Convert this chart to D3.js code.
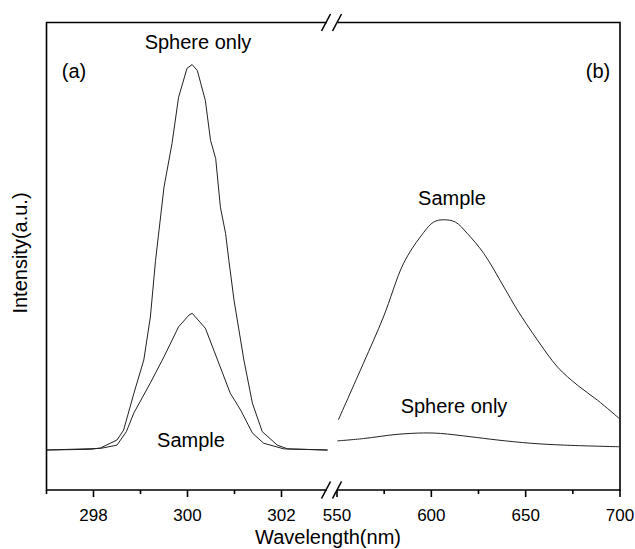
<!DOCTYPE html>
<html>
<head>
<meta charset="UTF-8">
<style>
body { margin:0; background:#fff; }
svg text { font-family: Arial, "Liberation Sans", sans-serif; fill:#000; }
.frame { fill:none; stroke:#000; stroke-width:1.6px; }
.curve { fill:none; stroke:#222; stroke-width:1px; }
</style>
</head>
<body>
<svg width="635" height="549"></svg>
<script src="https://cdn.jsdelivr.net/npm/d3@7"></script>
<script>
// left panel (a): excitation region, nm
var sphereLeftNm = [297.0, 297.94, 298.15, 298.5, 298.64, 298.86, 299.07, 299.21, 299.32, 299.5, 299.67, 299.81, 299.99, 300.1, 300.21, 300.38, 300.49, 300.6, 300.7, 300.81, 300.88, 300.99, 301.2, 301.38, 301.59, 301.91, 302.13, 302.98];
var sphereLeftI  = [8.55, 8.7, 9.0, 10.7, 12.8, 20.7, 27.8, 37.0, 49.1, 64.8, 74.1, 84.0, 90.2, 91.0, 89.7, 83.3, 74.8, 70.9, 60.5, 54.9, 49.1, 40.6, 27.8, 18.6, 12.5, 9.6, 8.8, 8.55];
var sampleLeftNm = [297.0, 298.15, 298.5, 298.7, 298.86, 299.21, 299.5, 299.81, 300.03, 300.1, 300.38, 300.56, 300.91, 301.13, 301.38, 301.62, 302.05, 302.98];
var sampleLeftI  = [8.55, 8.9, 9.6, 12.5, 16.5, 22.9, 28.5, 34.9, 37.4, 37.8, 34.6, 29.9, 20.7, 17.1, 12.2, 10.0, 8.8, 8.55];

// right panel (b): emission region, nm
var sampleRightNm = [550.7, 564.0, 574.6, 585.3, 594.1, 601.2, 606.5, 612.8, 619.0, 627.8, 638.5, 645.6, 656.2, 666.9, 677.5, 688.1, 699.6];
var sampleRightI  = [15.0, 27.1, 37.0, 48.5, 54.1, 57.3, 57.8, 57.3, 54.9, 50.6, 43.4, 38.5, 32.1, 26.3, 22.4, 19.2, 15.3];
var sphereRightNm = [550.2, 564.0, 581.8, 595.9, 604.8, 620.7, 634.9, 652.7, 670.4, 699.6];
var sphereRightI  = [10.5, 11.0, 11.9, 12.2, 12.1, 11.4, 10.7, 10.0, 9.6, 9.25];

var leftMajor = [298, 300, 302], leftMinor = [297, 299, 301];
var rightMajor = [550, 600, 650, 700], rightMinor = [575, 625, 675];

var svg = d3.select("svg"),
    x0 = 46.5, x1 = 620, y0 = 22.5, y1 = 490,
    breakL = 327, breakR = 338;

var xa = d3.scaleLinear().domain([297, 303]).range([x0, x0 + 6 * 47]);
var xb = d3.scaleLinear().domain([550, 700]).range([337, x1]);
var y = d3.scaleLinear().domain([0, 100]).range([y1, y0]);

function zip(xs, ys) { return xs.map(function(d, i) { return [d, ys[i]]; }); }

var lineA = d3.line().x(function(d) { return xa(d[0]); }).y(function(d) { return y(d[1]); });
var lineB = d3.line().curve(d3.curveCatmullRom).x(function(d) { return xb(d[0]); }).y(function(d) { return y(d[1]); });

svg.append("path").attr("class", "curve").attr("d", lineA(zip(sphereLeftNm, sphereLeftI)));
svg.append("path").attr("class", "curve").attr("d", lineA(zip(sampleLeftNm, sampleLeftI)));
svg.append("path").attr("class", "curve").attr("d", lineB(zip(sampleRightNm, sampleRightI)));
svg.append("path").attr("class", "curve").attr("d", lineB(zip(sphereRightNm, sphereRightI)));

// frame with broken top/bottom
svg.append("path").attr("class", "frame")
  .attr("d", "M" + breakL + "," + y0 + "H" + x0 + "V" + y1 + "H" + breakL +
             "M" + breakR + "," + y0 + "H" + x1 + "V" + y1 + "H" + breakR);

// break marks
[y0, y1].forEach(function(yy) {
  [breakL - 1, breakR - 1].forEach(function(xx) {
    svg.append("line").attr("class", "frame")
      .attr("x1", xx - 4.5).attr("y1", yy + 8.5)
      .attr("x2", xx + 4.5).attr("y2", yy - 8.5);
  });
});

// ticks
function ticks(scale, vals, len) {
  svg.append("g").selectAll("line").data(vals).enter().append("line")
    .attr("class", "frame")
    .attr("x1", function(d) { return scale(d); }).attr("x2", function(d) { return scale(d); })
    .attr("y1", y1).attr("y2", y1 + len);
}
ticks(xa, leftMajor, 7); ticks(xa, leftMinor, 4);
ticks(xb, rightMajor, 7); ticks(xb, rightMinor, 4);

function labels(scale, vals) {
  svg.append("g").selectAll("text").data(vals).enter().append("text")
    .attr("x", function(d) { return scale(d); }).attr("y", 521)
    .attr("text-anchor", "middle").style("font-size", "17px")
    .text(function(d) { return d; });
}
labels(xa, leftMajor); labels(xb, rightMajor);

svg.append("text").attr("x", 328).attr("y", 544).attr("text-anchor", "middle")
  .style("font-size", "20px").text("Wavelength(nm)");
svg.append("text").attr("transform", "translate(27,253) rotate(-90)").attr("text-anchor", "middle")
  .style("font-size", "20px").text("Intensity(a.u.)");

var notes = [
  {t: "(a)", x: 74, y: 78},
  {t: "(b)", x: 598, y: 78},
  {t: "Sphere only", x: 198, y: 49},
  {t: "Sample", x: 191, y: 447},
  {t: "Sample", x: 452, y: 205},
  {t: "Sphere only", x: 454, y: 413}
];
svg.append("g").selectAll("text").data(notes).enter().append("text")
  .attr("x", function(d) { return d.x; }).attr("y", function(d) { return d.y; })
  .attr("text-anchor", "middle").style("font-size", "20px")
  .text(function(d) { return d.t; });
</script>
</body>
</html>
